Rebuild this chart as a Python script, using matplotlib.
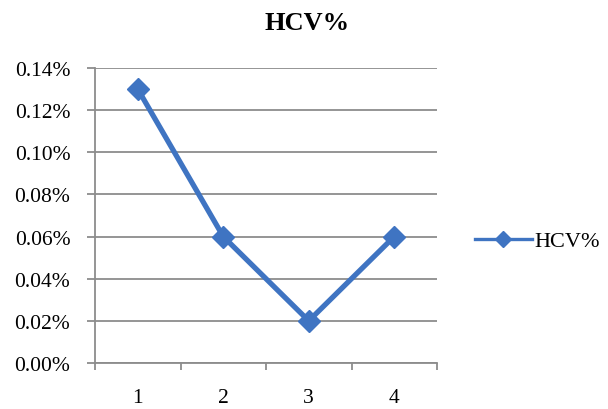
import matplotlib
matplotlib.use("Agg")
import matplotlib.pyplot as plt
from matplotlib.ticker import FuncFormatter
from matplotlib.lines import Line2D

categories = [1, 2, 3, 4]
hcv_values = [0.13, 0.06, 0.02, 0.06]
y_ticks = [0.00, 0.02, 0.04, 0.06, 0.08, 0.10, 0.12, 0.14]
series_name = "HCV%"
title = "HCV%"

plt.rcParams['font.family'] = ['Liberation Serif', 'DejaVu Serif']

fig = plt.figure(figsize=(6.08, 4.10), dpi=100)
W, H = 608, 410
left, right, top, bottom = 95, 437, 69, 364
ax = fig.add_axes([left / W, 1 - bottom / H, (right - left) / W, (bottom - top) / H])

line_color = "#3F74C2"
grid_color = "#8C8C8C"

ax.plot(categories, hcv_values, color=line_color, lw=3.8, marker="D",
        markersize=11.5, markerfacecolor=line_color, markeredgecolor=line_color,
        label=series_name, zorder=3, clip_on=False)

ax.set_xlim(0.5, 4.5)
ax.set_ylim(0, 0.14)
ax.set_yticks(y_ticks)
ax.yaxis.set_major_formatter(FuncFormatter(lambda v, p: f"{v:.2f}%"))
ax.set_xticks(categories)
ax.set_xticks([0.5, 1.5, 2.5, 3.5, 4.5], minor=True)
ax.tick_params(axis="x", which="major", length=0, pad=18, labelsize=15.5, colors="black")
ax.tick_params(axis="x", which="minor", length=5, width=1.3, color=grid_color, direction="out")
ax.tick_params(axis="y", which="major", length=5.8, width=1.3, color=grid_color,
               direction="out", labelsize=15.5, pad=12)

ax.grid(axis="y", color=grid_color, lw=1.3)
ax.set_axisbelow(True)
for s in ["top", "right"]:
    ax.spines[s].set_visible(False)
for s in ["left", "bottom"]:
    ax.spines[s].set_color(grid_color)
    ax.spines[s].set_linewidth(1.3)

fig.text(307 / W, 1 - 23 / H, title, ha="center", va="center",
         fontsize=19, fontweight="bold")

handle = Line2D([], [], color=line_color, lw=2.4, marker="D", markersize=8,
                markerfacecolor=line_color, markeredgecolor=line_color)
leg = fig.legend([handle], [series_name], loc="center left",
                 bbox_to_anchor=(475 / W, 1 - 242 / H),
                 frameon=False, fontsize=16, handlelength=2.55,
                 handletextpad=0.1, borderpad=0, borderaxespad=0)

fig.savefig("out.png", dpi=100)
